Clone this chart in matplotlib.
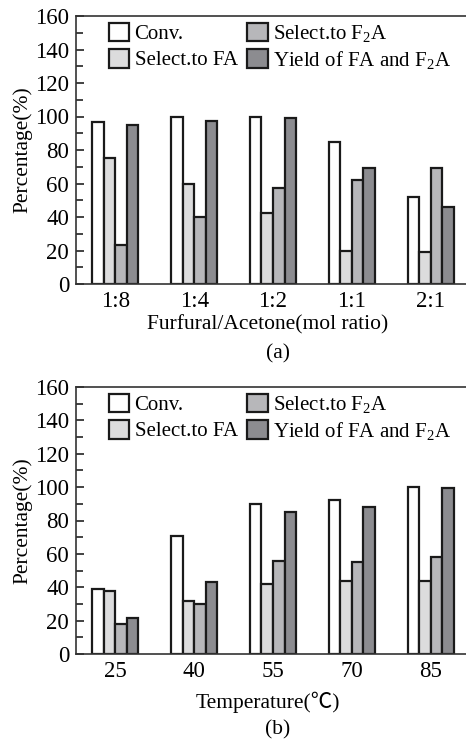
import matplotlib
matplotlib.use("Agg")
import matplotlib.pyplot as plt
import numpy as np

plt.rcParams['font.family'] = ['Liberation Serif', 'DejaVu Serif']
plt.rcParams['mathtext.fontset'] = 'custom'
plt.rcParams['mathtext.rm'] = 'Liberation Serif'
plt.rcParams['mathtext.it'] = 'Liberation Serif:italic'

series_names = ['Conv.', 'Select.to FA', r'Select.to F$_2$A', r'Yield of FA and F$_2$A']
series_colors = ['#ffffff', '#dcdcdd', '#b7b7ba', '#8c8c90']

ratio_labels = ['1:8', '1:4', '1:2', '1:1', '2:1']
ratio_conv = [97, 99.5, 99.5, 85, 52]
ratio_sel_fa = [75, 59.5, 42.5, 20, 19]
ratio_sel_f2a = [23, 40, 57.5, 62, 69]
ratio_yield = [95, 97.5, 99, 69, 46]

temp_labels = ['25', '40', '55', '70', '85']
temp_conv = [39, 71, 90, 92, 100]
temp_sel_fa = [37.5, 32, 42, 44, 44]
temp_sel_f2a = [18, 30, 56, 55, 58]
temp_yield = [21.5, 43, 85, 88, 99.5]

W, H = 466, 740
fig = plt.figure(figsize=(W / 100, H / 100), dpi=100)

bar_w = 0.146
tick_fs = 16.5
label_fs = 15.5
leg_fs = 15


def panel(rect, labels, values, xlabel, caption, cap_y, xl_y):
    ax = fig.add_axes(rect)
    x = np.arange(len(labels))
    for i, (vals, name, col) in enumerate(zip(values, series_names, series_colors)):
        ax.bar(x + (i - 1.5) * bar_w, vals, width=bar_w, color=col,
               edgecolor='#1a1a1a', linewidth=1.6, label=name, zorder=2)
    ax.set_xlim(-0.5, 4.5)
    ax.set_ylim(0, 160)
    ax.set_yticks(np.arange(0, 161, 20))
    ax.set_yticks(np.arange(10, 160, 20), minor=True)
    ax.set_xticks(x)
    ax.set_xticklabels(labels)
    ax.tick_params(axis='y', which='major', direction='in', length=6, width=1.2,
                   labelsize=tick_fs, pad=5, color='#222222')
    ax.tick_params(axis='y', which='minor', direction='in', length=5, width=1.2,
                   color='#222222')
    ax.tick_params(axis='x', length=0, labelsize=tick_fs, pad=5)
    for s in ['left', 'bottom', 'top']:
        ax.spines[s].set_linewidth(1.2)
        ax.spines[s].set_color('#333333')
    ax.spines['right'].set_visible(False)
    ax.set_ylabel('Percentage(%)', fontsize=label_fs, labelpad=2)
    fig.text(268 / W, 1 - xl_y / H, xlabel, ha='center', va='center', fontsize=label_fs,
             family=['Liberation Serif', 'Noto Sans CJK SC'])
    fig.text(278 / W, 1 - cap_y / H, caption, ha='center', va='center', fontsize=label_fs)
    ax.legend(loc='upper left', bbox_to_anchor=(0.072, 0.99), ncol=2, frameon=False,
              fontsize=leg_fs, handlelength=1.0, handleheight=1.0, handletextpad=0.25,
              columnspacing=0.45, labelspacing=0.22, borderpad=0.2, borderaxespad=0.0)
    return ax


ax_left = 76 / W
ax_w = (470 - 76) / W
panel([ax_left, 1 - 284 / H, ax_w, 268 / H], ratio_labels,
      [ratio_conv, ratio_sel_fa, ratio_sel_f2a, ratio_yield],
      'Furfural/Acetone(mol ratio)', '(a)', 354, 325)
panel([ax_left, 1 - 654 / H, ax_w, 267 / H], temp_labels,
      [temp_conv, temp_sel_fa, temp_sel_f2a, temp_yield],
      'Temperature(\u2103)', '(b)', 730, 702)

fig.savefig('out.png', dpi=100)
